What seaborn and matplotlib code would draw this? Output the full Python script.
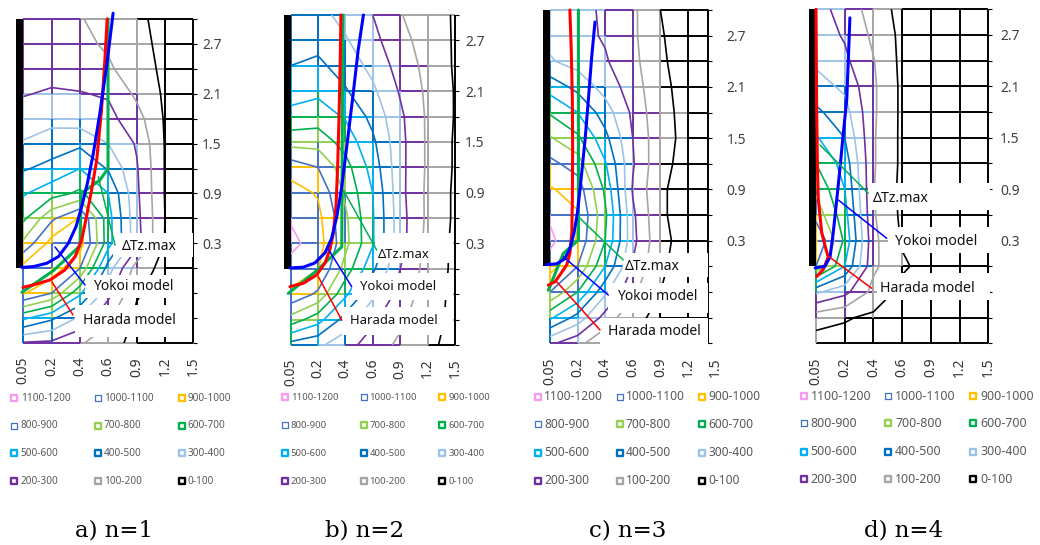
import numpy as np
import matplotlib
matplotlib.use("Agg")
import matplotlib.pyplot as plt
from matplotlib.collections import LineCollection
from matplotlib.patches import Rectangle
import seaborn as sns

sns.set_theme(style="white")
plt.rcParams["font.family"] = ["Noto Sans", "DejaVu Sans"]

# ---------------- data ----------------
x_categories = ["0.05", "0.2", "0.4", "0.6", "0.9", "1.2", "1.5"]
y_levels = [3.0, 2.7, 2.4, 2.1, 1.8, 1.5, 1.2, 0.9, 0.6, 0.3, 0.0, -0.3, -0.6, -0.9]
y_tick_labels = {2.7: "2.7", 2.1: "2.1", 1.5: "1.5", 0.9: "0.9", 0.3: "0.3"}

band_labels = ["0-100", "100-200", "200-300", "300-400", "400-500", "500-600",
               "600-700", "700-800", "800-900", "900-1000", "1000-1100", "1100-1200"]
band_colors = ["#000000", "#A5A5A5", "#7030A0", "#9DC3E6", "#0070C0", "#00B0F0",
               "#00B050", "#92D050", "#4472C4", "#FFC000", "#4472C4", "#F59CEE"]
contour_levels = [100, 200, 300, 400, 500, 600, 700, 800, 900, 1000, 1100]
contour_colors = ["#000000", "#A5A5A5", "#7030A0", "#9DC3E6", "#0070C0", "#00B0F0",
                  "#00B050", "#92D050", "#4472C4", "#FFC000", "#F59CEE"]

temp_n1 = [
    [250, 240, 205, 170, 120, 70, 60],
    [260, 250, 225, 185, 130, 75, 60],
    [275, 270, 255, 215, 145, 80, 60],
    [295, 310, 305, 290, 180, 85, 60],
    [340, 370, 350, 330, 240, 90, 60],
    [410, 450, 480, 400, 290, 95, 60],
    [490, 530, 600, 490, 310, 95, 60],
    [590, 660, 720, 600, 320, 95, 60],
    [680, 880, 1010, 640, 330, 100, 60],
    [820, 1040, 1050, 640, 340, 95, 60],
    [1040, 1070, 900, 450, 150, 70, 60],
    [1010, 900, 620, 330, 110, 60, 60],
    [620, 520, 380, 220, 80, 60, 60],
    [290, 280, 210, 150, 60, 60, 60],
]
temp_n2 = [
    [470, 430, 370, 300, 205, 150, 90],
    [480, 470, 410, 330, 230, 160, 90],
    [500, 520, 460, 370, 260, 170, 90],
    [560, 580, 510, 420, 290, 180, 95],
    [630, 650, 590, 470, 320, 185, 95],
    [760, 760, 660, 520, 330, 185, 90],
    [960, 900, 740, 560, 330, 185, 90],
    [1040, 990, 780, 600, 330, 180, 85],
    [1090, 1030, 820, 610, 340, 180, 85],
    [1130, 1050, 830, 610, 340, 170, 80],
    [1060, 1005, 760, 520, 300, 160, 80],
    [980, 880, 620, 420, 260, 150, 75],
    [760, 640, 460, 320, 220, 140, 75],
    [460, 420, 340, 250, 180, 120, 70],
]
temp_n3 = [
    [340, 320, 290, 220, 100, 70, 60],
    [370, 330, 290, 220, 105, 70, 60],
    [410, 360, 310, 230, 110, 70, 60],
    [560, 470, 360, 250, 120, 70, 60],
    [690, 600, 450, 280, 120, 80, 60],
    [810, 720, 530, 300, 125, 80, 60],
    [930, 850, 610, 310, 120, 75, 60],
    [1010, 960, 680, 290, 110, 70, 60],
    [1080, 1010, 720, 320, 110, 70, 60],
    [1130, 990, 700, 330, 120, 70, 60],
    [1040, 900, 600, 290, 110, 70, 60],
    [900, 700, 420, 220, 100, 70, 60],
    [620, 460, 260, 120, 80, 60, 60],
    [320, 230, 120, 70, 70, 60, 60],
]
temp_n4 = [
    [330, 270, 150, 70, 50, 50, 50],
    [350, 290, 180, 75, 50, 50, 50],
    [380, 320, 205, 75, 50, 50, 50],
    [440, 380, 215, 80, 50, 50, 50],
    [520, 440, 215, 80, 50, 50, 50],
    [610, 500, 210, 80, 50, 50, 50],
    [700, 560, 210, 80, 50, 50, 50],
    [780, 600, 205, 75, 50, 50, 50],
    [860, 640, 210, 80, 50, 50, 50],
    [1010, 680, 225, 90, 50, 50, 50],
    [900, 600, 220, 115, 60, 50, 50],
    [420, 330, 170, 70, 50, 50, 50],
    [140, 110, 80, 60, 50, 50, 50],
    [60, 60, 55, 50, 50, 50, 50],
]

# model curves (x in category-position units, y in metres)
harada_n1_x = [-0.01, 0.36, 0.95, 1.47, 1.83, 2.06, 2.23, 2.41, 2.59, 2.76, 2.88, 2.96]
harada_n1_y = [-0.23, -0.20, -0.14, -0.02, 0.14, 0.34, 0.62, 0.94, 1.30, 1.90, 2.51, 3.0]
yokoi_n1_x = [-0.05, 0.36, 0.83, 1.24, 1.59, 1.86, 2.06, 2.26, 2.47, 2.70, 2.94, 3.17]
yokoi_n1_y = [0.01, 0.02, 0.06, 0.14, 0.30, 0.50, 0.74, 1.02, 1.38, 1.86, 2.43, 3.07]
dtz_n1_x = [-0.05, 1.06, 2.0, 2.04, 2.7, 2.99, 2.99]
dtz_n1_y = [-0.29, -0.03, 0.27, 0.9, 1.06, 1.2, 3.0]

harada_n2_x = [-0.02, 0.47, 0.96, 1.26, 1.44, 1.56, 1.66, 1.72, 1.77, 1.81, 1.84]
harada_n2_y = [-0.21, -0.17, -0.07, 0.07, 0.23, 0.42, 0.74, 1.21, 1.80, 2.39, 3.0]
yokoi_n2_x = [-0.02, 0.47, 0.89, 1.26, 1.50, 1.69, 1.87, 2.07, 2.29, 2.47, 2.66]
yokoi_n2_y = [0.01, 0.02, 0.07, 0.19, 0.36, 0.62, 0.97, 1.49, 2.08, 2.59, 3.0]
dtz_n2_x = [-0.08, 0.96, 1.87, 1.91]
dtz_n2_y = [-0.29, -0.02, 0.26, 3.0]

harada_n3_x = [-0.06, 0.18, 0.36, 0.61, 0.72, 0.79, 0.81, 0.82, 0.81, 0.77, 0.72]
harada_n3_y = [-0.22, -0.18, -0.10, 0.02, 0.15, 0.39, 0.78, 1.36, 1.95, 2.53, 3.0]
yokoi_n3_x = [-0.12, 0.24, 0.54, 0.72, 0.87, 0.99, 1.11, 1.27, 1.39, 1.51, 1.63]
yokoi_n3_y = [0.02, 0.03, 0.09, 0.21, 0.39, 0.62, 0.97, 1.48, 1.95, 2.45, 2.86]
dtz_n3_x = [-0.06, 0.48, 1.03, 1.03]
dtz_n3_y = [-0.28, 0.15, 0.31, 3.0]

harada_n4_x = [0.0, 0.02, 0.05, 0.08, 0.20, 0.37, 0.43, 0.25, 0.02]
harada_n4_y = [3.0, 1.94, 1.16, 0.78, 0.39, 0.17, 0.11, -0.04, -0.12]
yokoi_n4_x = [-0.03, 0.31, 0.49, 0.60, 0.72, 0.84, 0.95, 1.07, 1.13, 1.18]
yokoi_n4_y = [-0.02, 0.0, 0.11, 0.39, 0.77, 1.16, 1.55, 1.94, 2.45, 2.9]
dtz_n4_x = []
dtz_n4_y = []

annotation_labels = ["ΔTz.max", "Yokoi model", "Harada model"]
annotation_colors = ["#00B050", "#0000FF", "#FF0000"]
panel_titles = ["a) n=1", "b) n=2", "c) n=3", "d) n=4"]

temps = [temp_n1, temp_n2, temp_n3, temp_n4]
curves = [
    [(dtz_n1_x, dtz_n1_y), (harada_n1_x, harada_n1_y), (yokoi_n1_x, yokoi_n1_y)],
    [(dtz_n2_x, dtz_n2_y), (harada_n2_x, harada_n2_y), (yokoi_n2_x, yokoi_n2_y)],
    [(dtz_n3_x, dtz_n3_y), (harada_n3_x, harada_n3_y), (yokoi_n3_x, yokoi_n3_y)],
    [(dtz_n4_x, dtz_n4_y), (harada_n4_x, harada_n4_y), (yokoi_n4_x, yokoi_n4_y)],
]
curve_colors = ["#00B050", "#FF0000", "#0000FF"]

# ---------------- layout (pixels) ----------------
W, H = 1040, 545
fig = plt.figure(figsize=(W / 100, H / 100), dpi=100)


def px_rect(l, t, r, b):
    return [l / W, 1 - b / H, (r - l) / W, (b - t) / H]


layout = [
    dict(box=(23.3, 19.0, 193.3, 343.0), xmax=6.0, pad=3.2),
    dict(box=(290.5, 15.0, 455.0, 345.0), xmax=6.0, pad=4.2),
    dict(box=(550.0, 10.0, 708.3, 343.3), xmax=5.735, pad=10.2),
    dict(box=(816.0, 9.3, 988.3, 343.3), xmax=6.0, pad=5.6),
]


def band_color(v):
    k = int(np.clip(v // 100, 0, len(band_colors) - 1))
    return band_colors[k]


for k in range(4):
    lay = layout[k]
    l, t, r, b = lay["box"]
    xmax = lay["xmax"]
    step_px = (r - l) / xmax
    ax = fig.add_axes(px_rect(l, t, r, b))
    ax.set_xlim(0, xmax)
    ax.set_ylim(-0.9, 3.0)
    Z = np.array(temps[k], dtype=float)
    nr, nc = Z.shape

    segs, cols = [], []
    for i in range(nr):
        for j in range(nc - 1):
            if j >= xmax:
                continue
            segs.append([(j, y_levels[i]), (min(j + 1, xmax), y_levels[i])])
            cols.append(band_color((Z[i, j] + Z[i, j + 1]) / 2))
    for j in range(nc):
        if j > xmax:
            continue
        for i in range(nr - 1):
            segs.append([(j, y_levels[i]), (j, y_levels[i + 1])])
            cols.append(band_color((Z[i, j] + Z[i + 1, j]) / 2))
    lc = LineCollection(segs, colors=cols, linewidths=1.4, zorder=1)
    lc.set_clip_on(False)
    ax.add_collection(lc)
    if xmax < nc - 1:
        ax.plot([xmax, xmax], [-0.9, 3.0], color="black", lw=1.4, clip_on=False, zorder=1)

    XX, YY = np.meshgrid(np.arange(nc), y_levels)
    ax.contour(XX, YY, Z, levels=contour_levels, colors=contour_colors,
               linewidths=1.2, zorder=2)

    # wall
    wall_w = 7.0 / step_px
    ax.add_patch(Rectangle((-wall_w, 0.0), wall_w, 3.0, facecolor="black",
                           edgecolor="none", clip_on=False, zorder=3))

    for (cx, cy), col in zip(curves[k], curve_colors):
        if len(cx) == 0:
            continue
        sns.lineplot(x=cx, y=cy, ax=ax, sort=False, estimator=None, color=col,
                     linewidth=2.2, clip_on=False, zorder=4)

    ax.set_xlabel("")
    ax.set_ylabel("")
    ax.yaxis.tick_right()
    ax.set_yticks(y_levels)
    ax.set_yticklabels([y_tick_labels.get(v, "") for v in y_levels])
    ax.tick_params(axis="y", right=True, left=False, labelright=True, labelleft=False,
                   length=3, width=0.8, color="black", direction="out",
                   pad=lay["pad"], labelsize=10, labelcolor="#404040")
    ax.set_xticks([])
    for s in ax.spines.values():
        s.set_visible(False)
    for j, lab in enumerate(x_categories):
        ax.annotate(lab, xy=(j, 0), xycoords=("data", "axes fraction"),
                    xytext=(0, -10), textcoords="offset points", rotation=90,
                    ha="center", va="top", fontsize=10, color="#333333",
                    annotation_clip=False)

# ---------------- overlay: annotations, legends, captions ----------------
ov = fig.add_axes([0, 0, 1, 1], zorder=10)
ov.set_xlim(0, W)
ov.set_ylim(H, 0)
ov.axis("off")
ov.patch.set_alpha(0)

ann_layout = [
    dict(boxes=[(113, 233, 193, 257), (85, 275, 192, 298), (75, 305, 192, 337)],
         texts=[(121.7, 246), (93, 287), (83, 321)], fs=10,
         leaders=[((115, 245), (98.3, 176.7)), ((85, 285), (55, 247)), ((73, 315), (52, 282))]),
    dict(boxes=[(375, 233, 453, 263), (351.7, 273, 453, 300), (341.7, 307, 453, 335)],
         texts=[(378, 255), (360, 287), (350, 321)], fs=9.4,
         leaders=[((376.7, 250), (343.3, 190)), ((351.7, 286.7), (326.7, 246.7)),
                  ((341.7, 320), (318.3, 276.7))]),
    dict(boxes=[(623, 253, 708, 277), (608, 283, 708, 313), (600, 318, 708, 347)],
         texts=[(625, 266.7), (616.7, 296.7), (608, 331.7)], fs=10,
         leaders=[((623.3, 260), (578.3, 216.7)), ((608.3, 295), (563.3, 256.7)),
                  ((600, 330), (556.7, 281.7))]),
    dict(boxes=[(868, 183, 990, 210), (888, 227, 995, 253), (876.7, 273, 990, 300)],
         texts=[(873, 198.3), (895, 241.7), (880, 288.3)], fs=10.2,
         leaders=[((868.3, 193.3), (820, 145)), ((886.7, 238.3), (838.3, 200)),
                  ((871.7, 288.3), (826.7, 255))]),
]
for a in ann_layout:
    for (x0, y0, x1, y1) in a["boxes"]:
        ov.add_patch(Rectangle((x0, y0), x1 - x0, y1 - y0, facecolor="white",
                               edgecolor="none", zorder=1))
    for (p0, p1), col in zip(a["leaders"], annotation_colors):
        ov.plot([p0[0], p1[0]], [p0[1], p1[1]], color=col, lw=1.1, zorder=2)
    for (tx, ty), lab in zip(a["texts"], annotation_labels):
        ov.text(tx, ty, lab, ha="left", va="center", fontsize=a["fs"], color="#111111", zorder=3)

legend_layout = [
    dict(mx=(14.3, 98.3, 181.7), tx=(20.7, 104, 187.3), rows=(398.3, 425.7, 453.3, 481), fs=7.2, ms=18),
    dict(mx=(285, 364, 442.3), tx=(290.7, 369.3, 448.3), rows=(397.3, 425, 453.3, 481), fs=6.9, ms=18),
    dict(mx=(538.3, 620, 701.7), tx=(544, 626, 708.3), rows=(396.7, 424.3, 453, 480.7), fs=8.6, ms=24),
    dict(mx=(804, 888.3, 973.3), tx=(810.7, 895, 980), rows=(396, 423.3, 451.7, 479.3), fs=8.9, ms=24),
]
for lg in legend_layout:
    for r_i, ry in enumerate(lg["rows"]):
        for c_i in range(3):
            band = len(band_labels) - 1 - (3 * r_i + c_i)
            thin = band in (8, 10)
            ov.scatter([lg["mx"][c_i]], [ry], marker="s", s=lg["ms"], facecolor="white",
                       edgecolor=band_colors[band], linewidth=0.9 if thin else 1.7, zorder=3)
            ov.text(lg["tx"][c_i], ry, band_labels[band], ha="left", va="center",
                    fontsize=lg["fs"], color="#595959")

caption_x = [114, 365, 627.5, 904]
for cx, title in zip(caption_x, panel_titles):
    ov.text(cx, 531, title, ha="center", va="center", fontsize=16.5,
            family="DejaVu Serif", color="black")

fig.savefig("out.png", dpi=100)
